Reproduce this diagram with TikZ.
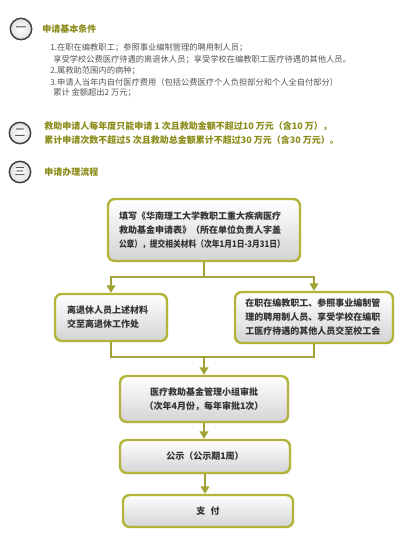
\documentclass[tikz,border=0pt]{standalone}
\usepackage{fontspec}
\setmainfont{Noto Sans CJK SC}
\usetikzlibrary{arrows.meta,shadows}
\definecolor{olivetxt}{HTML}{8B8B1A}
\definecolor{oliveline}{HTML}{B4B43C}
\definecolor{bodygray}{HTML}{555555}
\definecolor{boxtxt}{HTML}{333333}
\tikzset{
  numcirc/.style={circle, draw=black!75, line width=1.1pt, minimum size=16pt, inner sep=0pt,
    inner color=white, outer color=black!12, text=black!80, font=\fontsize{8pt}{8pt}\selectfont},
  sectitle/.style={anchor=west, inner sep=0pt, text=olivetxt, font=\fontsize{6.75pt}{10.5pt}\selectfont\bfseries},
  bodyline/.style={anchor=west, inner sep=0pt, text=bodygray, font=\fontsize{6.2pt}{8pt}\selectfont},
  flowbox/.style={rounded corners=5pt, draw=oliveline, line width=1.8pt, top color=white,
    bottom color=black!17, text=boxtxt, font=\fontsize{6.75pt}{10.5pt}\selectfont\bfseries,
    drop shadow={shadow xshift=0.8pt, shadow yshift=-0.8pt, opacity=0.25}},
  conn/.style={draw=oliveline!90!black, line width=1.1pt},
  arr/.style={conn, -{Triangle[width=6.5pt,length=5.5pt]}}
}
\begin{document}
\begin{tikzpicture}[x=0.75pt,y=-0.75pt]
\useasboundingbox (0,0) rectangle (400,540);
% Section 1
\node[numcirc] (c1) at (21,29) {一};
\node[sectitle] (t1) at (42,29) {申请基本条件};
\node[bodyline] (l1) at (50,48) {1.在职在编教职工；参照事业编制管理的聘用制人员；};
\node[bodyline] (l2) at (53,60) {享受学校公费医疗待遇的离退休人员；享受学校在编教职工医疗待遇的其他人员。};
\node[bodyline] (l3) at (50,71) {2.属救助范围内的病种；};
\node[bodyline] (l4) at (50,82) {3.申请人当年内自付医疗费用（包括公费医疗个人负担部分和个人全自付部分）};
\node[bodyline] (l5) at (53,93) {累计 金额超出2 万元；};
% Section 2
\node[numcirc] (c2) at (20,133) {二};
\node[sectitle] (t2a) at (44,126) {救助申请人每年度只能申请 1 次且救助金额不超过10 万元（含10 万），};
\node[sectitle] (t2b) at (44,140) {累计申请次数不超过5 次且救助总金额累计不超过30 万元（含30 万元）。};
% Section 3
\node[numcirc] (c3) at (20,172) {三};
\node[sectitle] (t3) at (44,172) {申请办理流程};
% Flow boxes
\node[flowbox, minimum width=144pt, minimum height=46.5pt, text width=127.5pt, align=left] (b1) at (204,230)
  {填写《华南理工大学教职工重大疾病医疗\\救助基金申请表》（所在单位负责人字盖\\\scalebox{0.86}[1]{公章），提交相关材料（次年1月1日-3月31日）}};
\node[flowbox, minimum width=84pt, minimum height=35.25pt, text width=66pt, align=left] (b2) at (111,317.5)
  {离退休人员上述材料\\交至离退休工作处};
\node[flowbox, minimum width=118.5pt, minimum height=38.25pt, text width=103pt, align=left] (b3) at (314,317.5)
  {在职在编教职工、参照事业编制管\\理的聘用制人员、享受学校在编职\\工医疗待遇的其他人员交至校工会};
\node[flowbox, minimum width=126pt, minimum height=34.5pt, align=center] (b4) at (204,399)
  {医疗救助基金管理小组审批\\（次年4月份，每年审批1次）};
\node[flowbox, minimum width=127.5pt, minimum height=24.75pt, align=center] (b5) at (205,456.5)
  {公示（公示期1周）};
\node[flowbox, minimum width=127.5pt, minimum height=24pt, align=center] (b6) at (208,511)
  {支\hspace{0.6em}付};
% Connectors
\coordinate (s1) at (204,277);
\coordinate (m1) at (204,357);
\draw[conn] (b1.south) -- (s1);
\draw[arr] (s1) -| (b2.north);
\draw[arr] (s1) -| (b3.north);
\draw[conn] (b2.south) |- (m1);
\draw[conn] (b3.south) |- (m1);
\draw[arr] (m1) -- (b4.north);
\draw[arr] (b4.south) -- (b4.south |- b5.north);
\draw[arr] (b5.south) -- (b5.south |- b6.north);
\end{tikzpicture}
\end{document}
